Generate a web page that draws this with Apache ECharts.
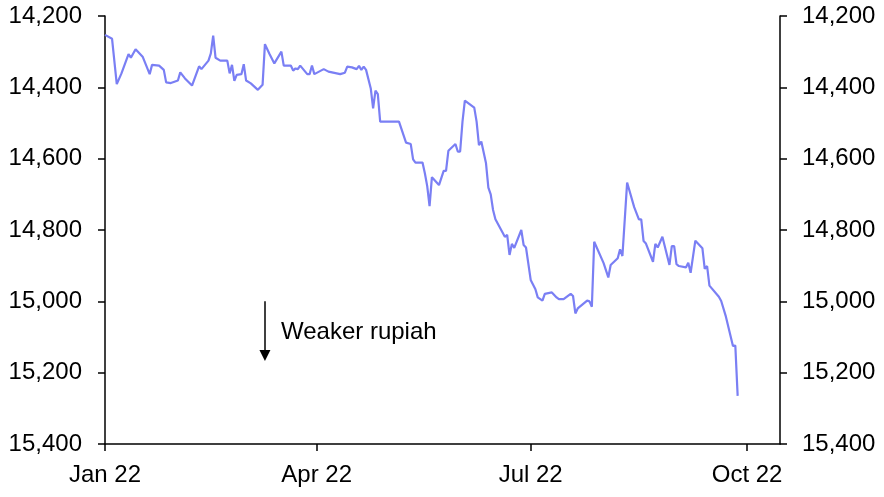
<!DOCTYPE html>
<html><head><meta charset="utf-8">
<script src="https://cdn.jsdelivr.net/npm/echarts@6/dist/echarts.min.js"></script>
<style>html,body{margin:0;padding:0;background:#fff}#c{width:884px;height:497px}</style>
</head><body><div id="c"></div>
<script>
const dates = ['2022-01-01','2022-01-04','2022-01-06','2022-01-08','2022-01-11','2022-01-12','2022-01-14','2022-01-17','2022-01-20','2022-01-21',
'2022-01-24','2022-01-26','2022-01-27','2022-01-29','2022-02-01','2022-02-02','2022-02-04','2022-02-07','2022-02-10','2022-02-11',
'2022-02-14','2022-02-15','2022-02-16','2022-02-17','2022-02-19','2022-02-22','2022-02-23','2022-02-24','2022-02-25','2022-02-26',
'2022-02-28','2022-03-01','2022-03-02','2022-03-04','2022-03-07','2022-03-09','2022-03-10','2022-03-12','2022-03-14','2022-03-17',
'2022-03-18','2022-03-21','2022-03-22','2022-03-23','2022-03-24','2022-03-25','2022-03-28','2022-03-29','2022-03-30','2022-03-31',
'2022-04-04','2022-04-06','2022-04-11','2022-04-13','2022-04-14','2022-04-16','2022-04-18','2022-04-19','2022-04-20','2022-04-21',
'2022-04-22','2022-04-24','2022-04-25','2022-04-26','2022-04-27','2022-04-28','2022-05-06','2022-05-09','2022-05-11','2022-05-12',
'2022-05-13','2022-05-16','2022-05-17','2022-05-18','2022-05-19','2022-05-20','2022-05-23','2022-05-25','2022-05-26','2022-05-27',
'2022-05-30','2022-05-31','2022-06-01','2022-06-02','2022-06-03','2022-06-07','2022-06-08','2022-06-09','2022-06-10','2022-06-12',
'2022-06-13','2022-06-14','2022-06-15','2022-06-16','2022-06-20','2022-06-21','2022-06-22','2022-06-23','2022-06-24','2022-06-27',
'2022-06-28','2022-06-29','2022-07-01','2022-07-03','2022-07-04','2022-07-06','2022-07-07','2022-07-10','2022-07-12','2022-07-13',
'2022-07-15','2022-07-18','2022-07-19','2022-07-20','2022-07-21','2022-07-25','2022-07-26','2022-07-27','2022-07-28','2022-08-01',
'2022-08-03','2022-08-04','2022-08-07','2022-08-08','2022-08-09','2022-08-11','2022-08-14','2022-08-16','2022-08-17','2022-08-18',
'2022-08-19','2022-08-22','2022-08-23','2022-08-24','2022-08-26','2022-08-29','2022-08-30','2022-08-31','2022-09-01','2022-09-02',
'2022-09-05','2022-09-06','2022-09-07','2022-09-09','2022-09-12','2022-09-13','2022-09-14','2022-09-15','2022-09-19','2022-09-20',
'2022-09-22','2022-09-25','2022-09-26','2022-09-27'];
const rates = [14253,14264,14391,14361,14307,14317,14293,14314,14363,14337,
14339,14351,14386,14388,14381,14358,14375,14395,14341,14349,
14325,14305,14255,14317,14325,14325,14361,14337,14382,14365,
14363,14335,14381,14389,14407,14393,14279,14307,14333,14300,
14339,14339,14353,14347,14349,14339,14363,14363,14339,14363,
14349,14356,14363,14359,14342,14344,14349,14340,14351,14342,
14351,14403,14459,14409,14419,14496,14496,14555,14559,14602,
14611,14611,14641,14677,14733,14652,14674,14634,14634,14578,
14559,14580,14580,14496,14437,14457,14496,14562,14552,14613,
14681,14700,14744,14770,14819,14814,14870,14839,14850,14800,
14842,14849,14940,14966,14989,14998,14979,14975,14989,14994,
14994,14979,14985,15034,15020,14998,15000,15015,14833,14893,
14933,14898,14879,14854,14873,14667,14736,14770,14770,14831,
14838,14889,14839,14849,14819,14898,14845,14845,14896,14901,
14905,14892,14920,14830,14851,14909,14901,14956,14987,14999,
15043,15125,15124,15265];
const xTickDates = ['2022-01-01','2022-04-01','2022-07-01','2022-10-01'];
const xTickLabels = ['Jan 22','Apr 22','Jul 22','Oct 22'];
const yMin = 14200, yMax = 15400, yStep = 200;
const annotationText = 'Weaker rupiah';
const arrowDate = '2022-03-10', arrowFrom = 15000, arrowTo = 15152;

const FONT = "'Liberation Sans',Arial,sans-serif";
const ts = d => Date.parse(d + 'T00:00:00Z');
const tickTs = xTickDates.map(ts);
const data = dates.map((d, i) => [ts(d), rates[i]]);
const fmtY = v => Number(v).toLocaleString('en-US');
const axisCommon = {
  type: 'value', inverse: true, min: yMin, max: yMax, interval: yStep,
  axisLine: {show: true, lineStyle: {color: '#000', width: 1.5}},
  axisTick: {show: true, inside: false, length: 7, lineStyle: {color: '#000', width: 1.5}},
  splitLine: {show: false},
  axisLabel: {color: '#000', fontSize: 24, fontFamily: FONT, margin: 23, formatter: fmtY}
};
const chart = echarts.init(document.getElementById('c'), null, {renderer: 'canvas'});
chart.setOption({
  animation: false,
  backgroundColor: '#fff',
  grid: {left: 105, right: 104, top: 16, bottom: 53, containLabel: false},
  xAxis: {
    type: 'value',
    min: ts('2022-01-01'),
    max: ts('2022-10-15'),
    axisLine: {show: true, onZero: false, lineStyle: {color: '#000', width: 1.5}},
    axisTick: {show: true, length: 7, customValues: tickTs, lineStyle: {color: '#000', width: 1.5}},
    splitLine: {show: false},
    axisLabel: {
      color: '#000', fontSize: 24, fontFamily: FONT, margin: 19,
      customValues: tickTs, showMinLabel: true, showMaxLabel: true,
      formatter: v => { const i = tickTs.indexOf(v); return i >= 0 ? xTickLabels[i] : ''; }
    }
  },
  yAxis: [
    Object.assign({}, axisCommon, {position: 'left'}),
    Object.assign({}, axisCommon, {position: 'right', axisLabel: Object.assign({}, axisCommon.axisLabel, {margin: 22})})
  ],
  series: [{
    type: 'line', data: data, yAxisIndex: 0, showSymbol: false, symbol: 'none',
    lineStyle: {color: '#7a7ff4', width: 2.2},
    markLine: {
      silent: true, symbol: ['none', 'triangle'], symbolSize: 11,
      lineStyle: {color: '#000', width: 1.5, type: 'solid'},
      label: {show: false},
      data: [[{coord: [ts(arrowDate), arrowFrom]}, {coord: [ts(arrowDate), arrowTo]}]]
    }
  }],
  graphic: [{
    type: 'text', left: 281, top: 320,
    style: {text: annotationText, fill: '#000', font: "24px " + FONT}
  }]
});
</script></body></html>
